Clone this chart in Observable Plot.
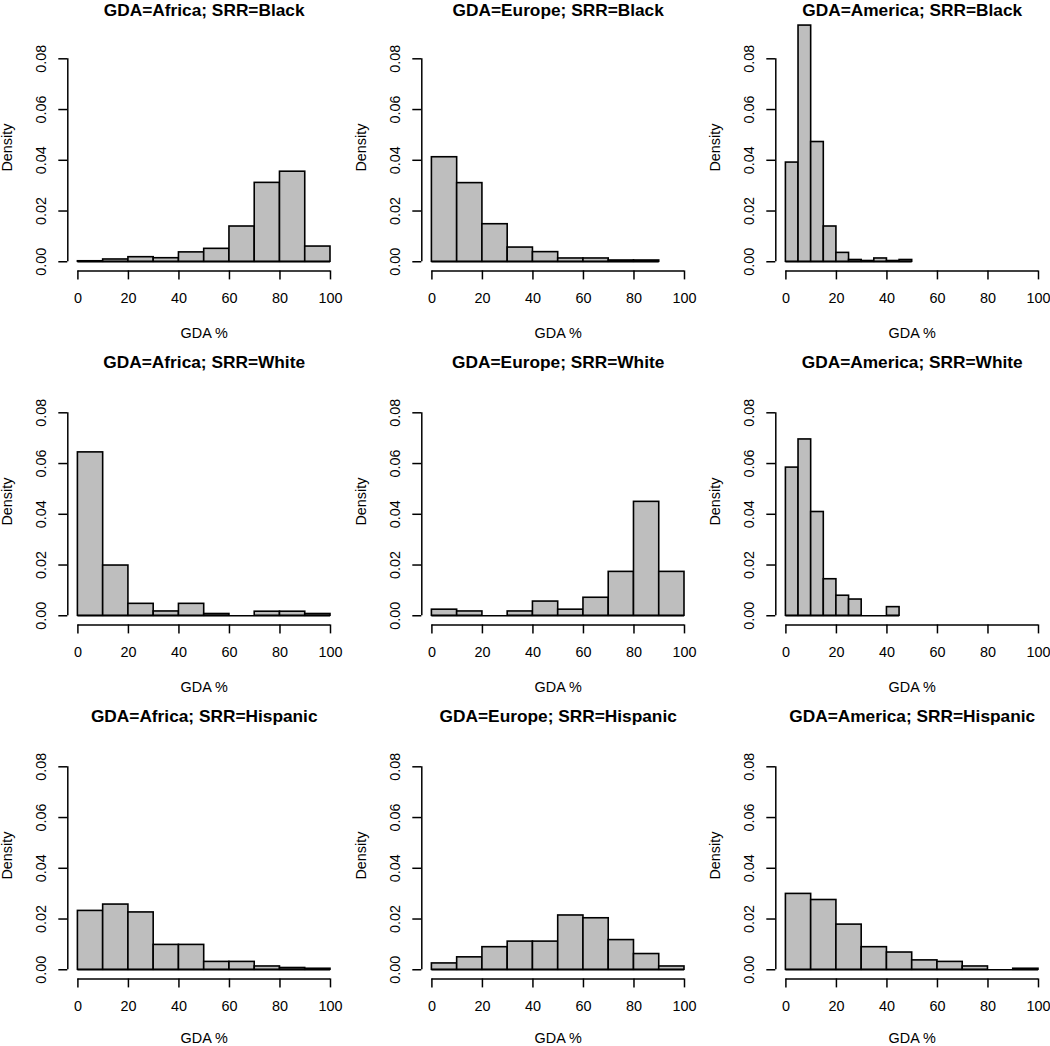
<!DOCTYPE html>
<html>
<head>
<meta charset="utf-8">
<script src="https://cdn.jsdelivr.net/npm/d3@7"></script>
<script src="https://cdn.jsdelivr.net/npm/@observablehq/plot@0.6"></script>
<style>
html, body { margin: 0; padding: 0; background: #fff; overflow: hidden; }
#chart { position: relative; width: 1050px; height: 1046px; overflow: hidden; background: #fff; }
.panel { position: absolute; width: 354px; height: 354px; }
.panel svg { max-width: none !important; width: 354px; height: 354px; }
#chart g[aria-label="x-axis tick"] path, #chart g[aria-label="y-axis tick"] path, #chart .tick line { stroke-width: 1.5px; stroke: #000; }
</style>
</head>
<body>
<div id="chart"></div>
<script>
// ---- Data (densities) ----
const gdaGroups = ["Africa", "Europe", "America"];
const srrGroups = ["Black", "White", "Hispanic"];

const breaks10 = [0, 10, 20, 30, 40, 50, 60, 70, 80, 90, 100];
const breaks10to90 = [0, 10, 20, 30, 40, 50, 60, 70, 80, 90];
const breaks5to50 = [0, 5, 10, 15, 20, 25, 30, 35, 40, 45, 50];
const breaks5to45 = [0, 5, 10, 15, 20, 25, 30, 35, 40, 45];

const xTicks = [0, 20, 40, 60, 80, 100];
const yTicks = [0, 0.02, 0.04, 0.06, 0.08];
const yLimit = [0, 0.09];
const xLimit = [0, 100];

const densAfricaBlack    = [0.0002, 0.0009, 0.0018, 0.0014, 0.0037, 0.0051, 0.0139, 0.0311, 0.0355, 0.0060];
const densEuropeBlack    = [0.0412, 0.0310, 0.0148, 0.0056, 0.0038, 0.0013, 0.0013, 0.0005, 0.0005];
const densAmericaBlack   = [0.0391, 0.0931, 0.0472, 0.0139, 0.0035, 0.0007, 0.0003, 0.0013, 0.0003, 0.0007];
const densAfricaWhite    = [0.0644, 0.0198, 0.0047, 0.0017, 0.0047, 0.0007, 0.0000, 0.0016, 0.0016, 0.0007];
const densEuropeWhite    = [0.0024, 0.0017, 0.0000, 0.0017, 0.0056, 0.0024, 0.0071, 0.0173, 0.0449, 0.0173];
const densAmericaWhite   = [0.0584, 0.0695, 0.0409, 0.0144, 0.0079, 0.0064, 0.0000, 0.0000, 0.0034];
const densAfricaHispanic = [0.0232, 0.0257, 0.0226, 0.0098, 0.0098, 0.0031, 0.0031, 0.0013, 0.0007, 0.0004];
const densEuropeHispanic = [0.0025, 0.0049, 0.0089, 0.0111, 0.0111, 0.0214, 0.0203, 0.0117, 0.0062, 0.0013];
const densAmericaHispanic= [0.0299, 0.0275, 0.0178, 0.0089, 0.0068, 0.0037, 0.0031, 0.0013, 0.0000, 0.0004];

const xLabel = "GDA %";
const yLabel = "Density";

// panels in row-major order (rows = SRR, columns = GDA)
const panelSpecs = [
  [densAfricaBlack, breaks10], [densEuropeBlack, breaks10to90], [densAmericaBlack, breaks5to50],
  [densAfricaWhite, breaks10], [densEuropeWhite, breaks10], [densAmericaWhite, breaks5to45],
  [densAfricaHispanic, breaks10], [densEuropeHispanic, breaks10], [densAmericaHispanic, breaks10]
];

const FONT = '"Liberation Sans", Arial, Helvetica, sans-serif';
const CELL = 354;
const FS = 14.4;
const TXT = {fill: "#000", fontSize: FS, fontFamily: FONT, textAnchor: "middle", lineAnchor: "middle"};

function makePanel(title, dens, breaks, titleDy, xLabelDy) {
  const bins = dens.map((d, i) => ({x1: breaks[i], x2: breaks[i + 1], d}));
  const xPad = 0.04 * (xLimit[1] - xLimit[0]);
  const yPad = 0.04 * (yLimit[1] - yLimit[0]);
  const xLo = xLimit[0] - xPad, yLo = yLimit[0] - yPad;
  return Plot.plot({
    width: CELL,
    height: CELL,
    marginLeft: 67.3,
    marginRight: 13.9,
    marginTop: 29.8,
    marginBottom: 77.6,
    style: {fontFamily: FONT, fontSize: FS + "px", color: "#000", background: "transparent", overflow: "visible"},
    x: {domain: [xLo, xLimit[1] + xPad], ticks: xTicks, tickSize: 9, tickFormat: () => "", label: null},
    y: {domain: [yLo, yLimit[1] + yPad], ticks: yTicks, tickSize: 9, tickFormat: () => "", label: null},
    marks: [
      Plot.rect(bins, {x1: "x1", x2: "x2", y1: () => 0, y2: "d", fill: "#bebebe", stroke: "#000", strokeWidth: 1.6}),
      Plot.ruleY([0], {x1: breaks[0], x2: breaks[breaks.length - 1], stroke: "#000", strokeWidth: 1.6}),
      // R-style axis lines spanning only the tick range
      Plot.ruleX([xLo], {y1: yTicks[0], y2: yTicks[yTicks.length - 1], stroke: "#000", strokeWidth: 1.5}),
      Plot.ruleY([yLo], {x1: xTicks[0], x2: xTicks[xTicks.length - 1], stroke: "#000", strokeWidth: 1.5}),
      // tick labels
      Plot.text(xTicks, {x: d => d, frameAnchor: "bottom", dy: 27.3, text: d => String(d), ...TXT}),
      Plot.text(yTicks, {y: d => d, frameAnchor: "left", dx: -26.6, rotate: -90, text: d => d.toFixed(2), ...TXT}),
      // axis titles
      Plot.text([yLabel], {frameAnchor: "left", dx: -60.6, rotate: -90, ...TXT}),
      Plot.text([xLabel], {frameAnchor: "bottom", dy: xLabelDy, ...TXT}),
      // panel title
      Plot.text([title], {frameAnchor: "top", dy: titleDy, ...TXT, fontWeight: "bold", fontSize: 17.3})
    ]
  });
}

const chart = document.getElementById("chart");
srrGroups.forEach((srr, r) => {
  gdaGroups.forEach((gda, c) => {
    const [dens, breaks] = panelSpecs[r * 3 + c];
    const div = document.createElement("div");
    div.className = "panel";
    div.style.left = (c * CELL) + "px";
    div.style.top = (r * CELL - 6) + "px";
    // top and bottom rows touch the page edges; nudge their outer labels so they stay fully inside
    const titleDy = r === 0 ? -13.4 : -15.6;
    const xLabelDy = r === 2 ? 59.2 : 62.9;
    div.appendChild(makePanel(`GDA=${gda}; SRR=${srr}`, dens, breaks, titleDy, xLabelDy));
    chart.appendChild(div);
  });
});
</script>
</body>
</html>
